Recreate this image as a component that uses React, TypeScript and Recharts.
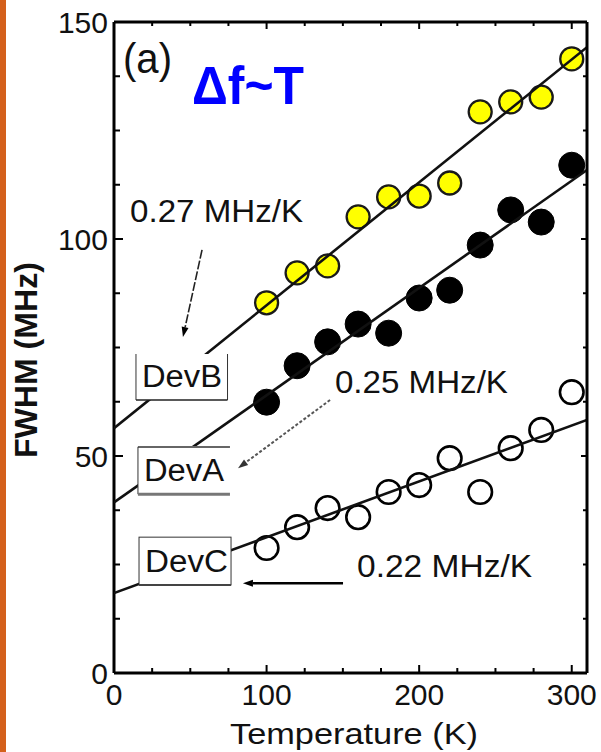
import React from 'react';
import {
  ComposedChart,
  Scatter,
  Line,
  XAxis,
  YAxis,
  ReferenceLine,
  ReferenceArea,
  ReferenceDot,
} from 'recharts';

// ---------- data ----------
const temperatures = [100, 120, 140, 160, 180, 200, 220, 240, 260, 280, 300];
const devB = [85.3, 92.2, 93.8, 105.1, 109.7, 109.9, 112.9, 129.3, 131.6, 132.7, 141.5];
const devA = [62.4, 70.8, 76.3, 80.4, 78.3, 86.4, 88.2, 98.6, 106.7, 103.9, 117.0];
const devC = [28.8, 33.6, 38.0, 35.9, 41.7, 43.3, 49.5, 41.7, 51.8, 56.0, 64.7];

// linear fits (end points)
const fitX = [0, 310];
const fitB = [56.4, 144.2];
const fitA = [39.3, 115.9];
const fitC = [18.4, 58.3];

const xTickLabels = [0, 100, 200, 300];
const yTickLabels = [0, 50, 100, 150];
const xMinorTicks = [25, 50, 75, 100, 125, 150, 175, 200, 225, 250, 275, 300];
const yMinorTicks = [12.5, 25, 37.5, 50, 62.5, 75, 87.5, 100, 112.5, 125, 137.5];
const xMajorTicks = [100, 200, 300];
const yMajorTicks = [50, 100];

// annotation texts (data coordinates of left baseline)
const annotationTexts = [
  { label: '(a)', x: 5.9, y: 138.2 },
  { label: 'Δf~T', x: 51.1, y: 131.1 },
  { label: '0.27 MHz/K', x: 10.5, y: 103.9 },
  { label: '0.25 MHz/K', x: 144.8, y: 64.5 },
  { label: '0.22 MHz/K', x: 159.3, y: 22.1 },
];

// device label boxes (data coordinates)
const deviceBoxes = [
  { label: 'DevB', x1: 14.4, x2: 74.4, y1: 62.9, y2: 73.5 },
  { label: 'DevA', x1: 15.7, x2: 76.0, y1: 41.2, y2: 52.1 },
  { label: 'DevC', x1: 16.4, x2: 76.7, y1: 20.3, y2: 31.3 },
];

// arrows: from -> to (arrowhead at "to")
const arrows = [
  { name: 'a27', from: { x: 57.7, y: 97.5 }, to: { x: 45.2, y: 77.4 } },
  { name: 'a25', from: { x: 141.6, y: 62.9 }, to: { x: 81.3, y: 47.2 } },
  { name: 'a22', from: { x: 150.1, y: 20.7 }, to: { x: 84.5, y: 20.7 } },
];

const axisTitles = [
  { label: 'Temperature (K)', x: 157.3, y: -16.4 },
  { label: 'FWHM (MHz)', x: -50.5, y: 72.1 },
];

// ---------- derived ----------
const toPoints = (ys: number[]) => temperatures.map((t, i) => ({ x: t, y: ys[i] }));
const toFit = (ys: number[]) => fitX.map((x, i) => ({ x, y: ys[i] }));

const FONT = "'Liberation Sans', Arial, Helvetica, sans-serif";

const textStyles: Record<string, any> = {
  '(a)': { fontSize: 43, textLength: 49, fill: '#111', fontWeight: 400 },
  'Δf~T': { fontSize: 53, textLength: 112, fill: '#0000ff', fontWeight: 700 },
  '0.27 MHz/K': { fontSize: 32, textLength: 173, fill: '#111', fontWeight: 400 },
  '0.25 MHz/K': { fontSize: 32, textLength: 173, fill: '#111', fontWeight: 400 },
  '0.22 MHz/K': { fontSize: 32, textLength: 175, fill: '#111', fontWeight: 400 },
};

const yellowDot = (p: any) => (
  <circle cx={p.cx} cy={p.cy} r={11.5} fill="#ffff00" stroke="#1a1a1a" strokeWidth={2.3} />
);
const blackDot = (p: any) => <circle cx={p.cx} cy={p.cy} r={13} fill="#000" stroke="#000" strokeWidth={1} />;
const openDot = (p: any) => (
  <circle cx={p.cx} cy={p.cy} r={11.8} fill="none" stroke="#000" strokeWidth={2.6} />
);

const boxShape = (label: string) => (p: any) => {
  const { x, y, width, height } = p;
  const r = x + width;
  const b = y + height;
  const textW = label === 'DevC' ? 83 : 80;
  const text = (
    <text
      x={x + 6}
      y={b - 13}
      fontFamily={FONT}
      fontSize={31}
      fill="#111"
      textLength={textW}
      lengthAdjust="spacingAndGlyphs"
    >
      {label}
    </text>
  );
  if (label === 'DevB') {
    return (
      <g>
        <rect x={x} y={y} width={width} height={height} fill="#fff" />
        <line x1={x} y1={y} x2={x} y2={b} stroke="#333" strokeWidth={1} />
        <line x1={r} y1={y} x2={r} y2={b} stroke="#333" strokeWidth={1} />
        <line x1={x} y1={b} x2={r} y2={b} stroke="#222" strokeWidth={1.5} />
        {text}
      </g>
    );
  }
  if (label === 'DevA') {
    return (
      <g>
        <rect x={x} y={y} width={width} height={height} fill="#fff" />
        <line x1={x} y1={y} x2={r} y2={y} stroke="#666" strokeWidth={2} />
        <line x1={x} y1={y} x2={x} y2={b} stroke="#333" strokeWidth={1} />
        <line x1={x} y1={b} x2={r} y2={b} stroke="#777" strokeWidth={3} />
        {text}
      </g>
    );
  }
  return (
    <g>
      <rect x={x} y={y} width={width} height={height} fill="#fff" stroke="#333" strokeWidth={1} />
      <line x1={x} y1={b} x2={r} y2={b} stroke="#444" strokeWidth={2} />
      {text}
    </g>
  );
};

const arrowShape = (name: string) => (p: any) => {
  const { x1, y1, x2, y2 } = p;
  const dx = x2 - x1;
  const dy = y2 - y1;
  const len = Math.sqrt(dx * dx + dy * dy) || 1;
  const ux = dx / len;
  const uy = dy / len;
  const hl = 10;
  const hw = 3.5;
  const bx = x2 - ux * hl;
  const by = y2 - uy * hl;
  const pts = `${x2},${y2} ${bx - uy * hw},${by + ux * hw} ${bx + uy * hw},${by - ux * hw}`;
  let stroke = '#000';
  let sw = 2.5;
  let dash: string | undefined = undefined;
  if (name === 'a27') {
    stroke = '#222';
    sw = 1.6;
    dash = '9 2';
  } else if (name === 'a25') {
    stroke = '#555';
    sw = 2;
    dash = '3 2';
  }
  return (
    <g>
      <line x1={x1} y1={y1} x2={bx} y2={by} stroke={stroke} strokeWidth={sw} strokeDasharray={dash} />
      <polygon points={pts} fill={name === 'a25' ? '#333' : '#000'} />
    </g>
  );
};

const xTickShape = (v: number) => (p: any) => {
  const top = Math.min(p.y1, p.y2);
  const bot = Math.max(p.y1, p.y2);
  const major = xMajorTicks.includes(v);
  const lb = major ? 8 : 5;
  const lt = major ? 7 : 4;
  return (
    <g>
      <line x1={p.x1} x2={p.x1} y1={bot} y2={bot - lb} stroke="#000" strokeWidth={2} />
      <line x1={p.x1} x2={p.x1} y1={top} y2={top + lt} stroke="#000" strokeWidth={2} />
    </g>
  );
};

const yTickShape = (v: number) => (p: any) => {
  const left = Math.min(p.x1, p.x2);
  const right = Math.max(p.x1, p.x2);
  const major = yMajorTicks.includes(v);
  const ll = major ? 9 : 6;
  const lr = major ? 6 : 4;
  return (
    <g>
      <line x1={left} x2={left + ll} y1={p.y1} y2={p.y1} stroke="#000" strokeWidth={2} />
      <line x1={right} x2={right - lr} y1={p.y1} y2={p.y1} stroke="#000" strokeWidth={2} />
    </g>
  );
};

const textShape = (label: string) => (p: any) => {
  const s = textStyles[label];
  return (
    <text
      x={p.cx}
      y={p.cy}
      fontFamily={FONT}
      fontSize={s.fontSize}
      fontWeight={s.fontWeight}
      fill={s.fill}
      textLength={s.textLength}
      lengthAdjust="spacingAndGlyphs"
    >
      {label}
    </text>
  );
};

const titleShape = (label: string) => (p: any) => {
  if (label === 'FWHM (MHz)') {
    return (
      <text
        x={p.cx}
        y={p.cy}
        transform={`rotate(-90 ${p.cx} ${p.cy})`}
        textAnchor="middle"
        fontFamily={FONT}
        fontSize={31}
        fontWeight={700}
        fill="#111"
        textLength={196}
        lengthAdjust="spacingAndGlyphs"
      >
        {label}
      </text>
    );
  }
  return (
    <text
      x={p.cx}
      y={p.cy}
      textAnchor="middle"
      fontFamily={FONT}
      fontSize={30}
      fill="#111"
      textLength={248}
      lengthAdjust="spacingAndGlyphs"
    >
      {label}
    </text>
  );
};

export default function App() {
  return (
    <div
      style={{
        position: 'absolute',
        left: 0,
        top: 0,
        width: 601,
        height: 752,
        background: '#fff',
        overflow: 'hidden',
      }}
    >
      <ComposedChart
        width={601}
        height={752}
        margin={{ top: 22, right: 14, bottom: 39, left: 54 }}
      >
        <XAxis
          type="number"
          dataKey="x"
          domain={[0, 310]}
          allowDataOverflow
          ticks={xTickLabels}
          interval={0}
          tickLine={false}
          tickSize={0}
          tickMargin={11}
          height={40}
          axisLine={{ stroke: '#000', strokeWidth: 3 }}
          tick={{ fontSize: 30, fill: '#111', fontFamily: FONT }}
        />
        <YAxis
          type="number"
          dataKey="y"
          domain={[0, 150]}
          allowDataOverflow
          ticks={yTickLabels}
          interval={0}
          tickLine={false}
          tickSize={0}
          tickMargin={6}
          width={60}
          axisLine={{ stroke: '#000', strokeWidth: 3 }}
          tick={{ fontSize: 30, fill: '#111', fontFamily: FONT }}
        />

        <Scatter data={toPoints(devB)} dataKey="y" shape={yellowDot} isAnimationActive={false} zIndex={600} />
        <Scatter data={toPoints(devA)} dataKey="y" shape={blackDot} isAnimationActive={false} zIndex={600} />
        <Scatter data={toPoints(devC)} dataKey="y" shape={openDot} isAnimationActive={false} zIndex={600} />

        <Line data={toFit(fitB)} dataKey="y" type="linear" stroke="#111" strokeWidth={2.6} dot={false} activeDot={false} isAnimationActive={false} zIndex={700} />
        <Line data={toFit(fitA)} dataKey="y" type="linear" stroke="#111" strokeWidth={2.6} dot={false} activeDot={false} isAnimationActive={false} zIndex={700} />
        <Line data={toFit(fitC)} dataKey="y" type="linear" stroke="#111" strokeWidth={2.6} dot={false} activeDot={false} isAnimationActive={false} zIndex={700} />

        {deviceBoxes.map((b) => (
          <ReferenceArea
            key={b.label}
            x1={b.x1}
            x2={b.x2}
            y1={b.y1}
            y2={b.y2}
            shape={boxShape(b.label)}
            zIndex={800}
          />
        ))}

        {arrows.map((a) => (
          <ReferenceLine
            key={a.name}
            segment={[a.from, a.to]}
            shape={arrowShape(a.name)}
            zIndex={900}
          />
        ))}

        {xMinorTicks.map((v) => (
          <ReferenceLine key={'xt' + v} x={v} shape={xTickShape(v)} zIndex={900} />
        ))}
        {yMinorTicks.map((v) => (
          <ReferenceLine key={'yt' + v} y={v} shape={yTickShape(v)} zIndex={900} />
        ))}
        <ReferenceLine y={150} stroke="#000" strokeWidth={3} zIndex={900} />
        <ReferenceLine x={310} stroke="#000" strokeWidth={3} zIndex={900} />

        {annotationTexts.map((t) => (
          <ReferenceDot key={t.label} x={t.x} y={t.y} shape={textShape(t.label)} zIndex={1000} />
        ))}
        {axisTitles.map((t) => (
          <ReferenceDot
            key={t.label}
            x={t.x}
            y={t.y}
            ifOverflow="visible"
            shape={titleShape(t.label)}
            zIndex={1000}
          />
        ))}
      </ComposedChart>
      <div
        style={{
          position: 'absolute',
          left: 0,
          top: 0,
          width: 6,
          height: 752,
          background: '#d4601c',
        }}
      />
    </div>
  );
}
